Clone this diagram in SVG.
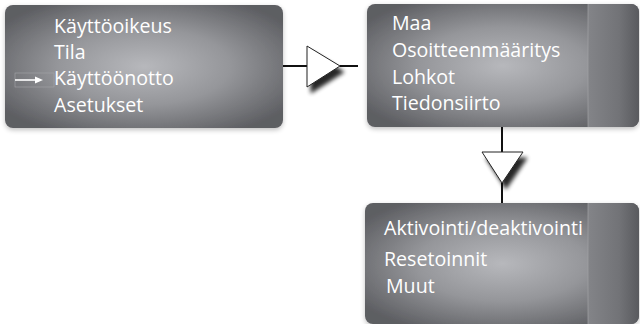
<svg xmlns="http://www.w3.org/2000/svg" width="640" height="324" viewBox="0 0 640 324">
  <defs>
    <radialGradient id="panel" cx="0.5" cy="0.5" r="0.62" gradientUnits="objectBoundingBox">
      <stop offset="0" stop-color="#b7b8bc"/>
      <stop offset="0.5" stop-color="#95969a"/>
      <stop offset="1" stop-color="#5d5e62"/>
    </radialGradient>
    <linearGradient id="side" x1="0" y1="0" x2="1" y2="0">
      <stop offset="0" stop-color="#838488"/>
      <stop offset="0.6" stop-color="#727377"/>
      <stop offset="1" stop-color="#58595d"/>
    </linearGradient>
    <filter id="halo" x="-10%" y="-20%" width="120%" height="140%">
      <feGaussianBlur in="SourceAlpha" stdDeviation="2.5"/>
      <feOffset dx="0" dy="2" result="b"/>
      <feComponentTransfer><feFuncA type="linear" slope="0.25"/></feComponentTransfer>
      <feMerge><feMergeNode/><feMergeNode in="SourceGraphic"/></feMerge>
    </filter>
    <filter id="tshadow" x="-50%" y="-50%" width="200%" height="200%">
      <feGaussianBlur in="SourceAlpha" stdDeviation="2.2"/>
      <feOffset dx="4" dy="6"/>
      <feComponentTransfer><feFuncA type="linear" slope="0.85"/></feComponentTransfer>
      <feMerge><feMergeNode/><feMergeNode in="SourceGraphic"/></feMerge>
    </filter>
    <clipPath id="clip2"><rect x="367" y="4" width="272" height="123" rx="8"/></clipPath>
    <clipPath id="clip3"><rect x="365" y="203" width="274" height="121" rx="8"/></clipPath>
  </defs>
  <style>
    .lbl { font-family: "Open Sans", "Liberation Sans", sans-serif; font-size: 19.6px; fill: #ffffff; }
    .wire { stroke: #111111; stroke-width: 2; fill: none; }
    .tri { fill: #ffffff; stroke: #222222; stroke-width: 1; }
    .sep { stroke: #a3a4a8; stroke-width: 0.7; }
  </style>

  <!-- connectors -->
  <g id="connectors">
    <line class="wire" x1="283" y1="66" x2="307" y2="66"/>
    <line class="wire" x1="340" y1="66" x2="358" y2="66"/>
    <polygon class="tri" points="307,46 340,66 307,87" filter="url(#tshadow)"/>
    <line class="wire" x1="502" y1="127" x2="502" y2="152"/>
    <line class="wire" x1="502" y1="183" x2="502" y2="203"/>
    <polygon class="tri" points="482,152 523,152 502,183" filter="url(#tshadow)"/>
  </g>

  <!-- main menu -->
  <g id="menu">
    <rect x="5" y="5" width="278" height="123" rx="8" fill="url(#panel)" filter="url(#halo)"/>
    <rect x="15" y="73" width="39" height="14" fill="none" stroke="#a4a5a9" stroke-width="0.6"/>
    <line x1="15" y1="80" x2="37" y2="80" stroke="#ffffff" stroke-width="1.6"/>
    <polygon points="35,76.5 43,80 35,83.5" fill="#ffffff"/>
    <text class="lbl" x="54" y="33">Käyttöoikeus</text>
    <text class="lbl" x="54" y="59">Tila</text>
    <text class="lbl" x="54" y="85">Käyttöönotto</text>
    <text class="lbl" x="54" y="112">Asetukset</text>
  </g>

  <!-- commissioning submenu -->
  <g id="submenu">
    <rect x="367" y="4" width="272" height="123" rx="8" fill="url(#panel)" filter="url(#halo)"/>
    <rect x="588" y="4" width="52" height="123" fill="url(#side)" clip-path="url(#clip2)"/>
    <line class="sep" x1="588" y1="4" x2="588" y2="127"/>
    <text class="lbl" x="392" y="30">Maa</text>
    <text class="lbl" x="392" y="57">Osoitteenmääritys</text>
    <text class="lbl" x="392" y="84">Lohkot</text>
    <text class="lbl" x="392" y="110">Tiedonsiirto</text>
  </g>

  <!-- settings submenu -->
  <g id="settings">
    <rect x="365" y="203" width="274" height="121" rx="8" fill="url(#panel)" filter="url(#halo)"/>
    <rect x="588" y="203" width="52" height="121" fill="url(#side)" clip-path="url(#clip3)"/>
    <line class="sep" x1="588" y1="203" x2="588" y2="324"/>
    <text class="lbl" x="384" y="235">Aktivointi/deaktivointi</text>
    <text class="lbl" x="384" y="266">Resetoinnit</text>
    <text class="lbl" x="386" y="293">Muut</text>
  </g>
</svg>
